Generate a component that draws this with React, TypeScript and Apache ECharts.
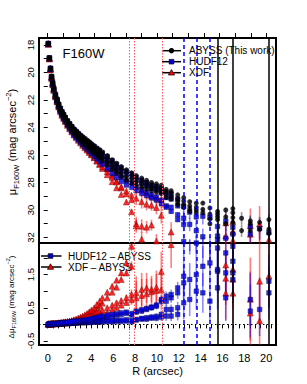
import React, { useEffect, useRef } from "react";
import * as echarts from "echarts";

// ---------- data ----------
const radius = [
  0.05, 0.15, 0.25, 0.35, 0.45, 0.55, 0.7, 0.85, 1.0, 1.15,
  1.3, 1.45, 1.6, 1.8, 2.0, 2.2, 2.4, 2.6, 2.8, 3.0,
  3.2, 3.4, 3.6, 3.8, 4.0, 4.25, 4.5, 4.75, 5.0, 5.45,
  5.9, 6.3, 6.73, 7.2, 7.67, 8.1, 8.6, 9.05, 9.5, 9.95,
  10.4, 10.85, 11.3, 11.9, 12.45, 13.0, 13.6, 14.2, 14.85, 15.55,
  16.3, 16.95, 17.75, 18.55, 19.4, 20.25,
];

const abyssGal1 = [
  17.9, 18.95, 19.7, 20.3, 20.75, 21.15, 21.6, 21.95, 22.3, 22.6,
  22.85, 23.05, 23.25, 23.5, 23.7, 23.9, 24.1, 24.25, 24.4, 24.55,
  24.68, 24.8, 24.93, 25.05, 25.18, 25.32, 25.48, 25.62, 25.78, 26.05,
  26.35, 26.6, 26.85, 27.08, 27.3, 27.5, 27.68, 27.85, 28.0, 28.1,
  28.2, 28.5, 28.6, 28.9, 29.1, 29.4, 29.5, 29.5, 29.85, 30.1,
  30.0, 29.9, 30.6, 30.8, 30.9, 30.7,
];
const abyssGal2 = [
  17.9, 18.95, 19.7, 20.3, 20.75, 21.15, 21.6, 21.95, 22.3, 22.6,
  22.85, 23.05, 23.25, 23.5, 23.72, 23.93, 24.14, 24.3, 24.46, 24.62,
  24.76, 24.89, 25.03, 25.16, 25.3, 25.45, 25.62, 25.77, 25.94, 26.22,
  26.53, 26.79, 27.05, 27.28, 27.5, 27.7, 27.88, 28.05, 28.2, 28.3,
  28.4, 28.65, 28.75, 29.2, 29.35, 29.7, 29.8, 29.95, 30.3, 30.3,
  30.5, 30.2, 31.5, 31.0, 31.4, 31.4,
];
const abyssGal3 = [
  17.92, 18.97, 19.73, 20.34, 20.8, 21.2, 21.66, 22.02, 22.38, 22.69,
  22.95, 23.16, 23.37, 23.63, 23.85, 24.06, 24.27, 24.44, 24.6, 24.77,
  24.92, 25.06, 25.21, 25.35, 25.5, 25.66, 25.84, 26.0, 26.18, 26.47,
  26.79, 27.06, 27.33, 27.57, 27.78, 27.96, 28.12, 28.27, 28.4, 28.5,
  28.6, 28.85, 29.0, 29.4, 29.6, 29.9, 30.0, 30.2, 30.65, 30.5,
  31.0, 30.55, null, 31.5, null, 31.7,
];
const abyssGal4 = [
  17.95, 19.02, 19.8, 20.42, 20.88, 21.28, 21.75, 22.12, 22.48, 22.8,
  23.07, 23.29, 23.51, 23.78, 24.01, 24.23, 24.45, 24.63, 24.8, 24.97,
  25.13, 25.28, 25.43, 25.58, 25.73, 25.9, 26.08, 26.25, 26.43, 26.73,
  27.05, 27.32, 27.58, 27.82, 28.03, 28.2, 28.35, 28.48, 28.6, 28.7,
  28.8, 29.1, 29.2, 29.6, 29.8, 30.1, 30.2, null, 31.0, 30.7,
  null, 30.9, null, null, null, null,
];

const hudfMinusAbyssGal1 = [
  0, 0, 0, 0, 0.01, 0.01, 0.01, 0.01, 0.02, 0.02,
  0.02, 0.02, 0.03, 0.03, 0.03, 0.04, 0.04, 0.04, 0.05, 0.05,
  0.05, 0.05, 0.06, 0.06, 0.06, 0.07, 0.07, 0.07, 0.08, 0.08,
  0.08, 0.09, 0.09, 0.1, 0.08, 0.13, 0.16, 0.16, 0.19, 0.19,
  0.22, 0.25, 0.25, 0.3, 0.65, 0.75, 1.0, 0.95, 0.7, 1.1,
  0.8, 1.35, null, 0.4, 0.45, 0.95,
];
const hudfMinusAbyssGal2 = [
  0, 0, 0, 0.01, 0.01, 0.01, 0.02, 0.02, 0.02, 0.03,
  0.03, 0.03, 0.04, 0.04, 0.05, 0.05, 0.05, 0.06, 0.06, 0.07,
  0.07, 0.08, 0.08, 0.09, 0.09, 0.1, 0.1, 0.11, 0.11, 0.12,
  0.12, 0.13, 0.13, 0.14, 0.12, 0.15, 0.18, 0.2, 0.22, 0.24,
  0.3, 0.45, 0.45, 0.5, 1.25, 1.35, 2.6, 2.6, 2.8, 1.6,
  1.55, 1.55, null, 0.75, null, 1.3,
];
const hudfMinusAbyssGal3 = [
  0, 0, 0.01, 0.01, 0.01, 0.02, 0.02, 0.02, 0.03, 0.03,
  0.04, 0.04, 0.05, 0.05, 0.06, 0.07, 0.07, 0.08, 0.09, 0.09,
  0.1, 0.11, 0.12, 0.13, 0.14, 0.15, 0.16, 0.18, 0.2, 0.22,
  0.25, 0.28, 0.3, 0.33, 0.28, 0.37, 0.4, 0.45, 0.5, 0.55,
  0.7, 0.85, 0.8, 0.95, 1.45, 2.7, 1.5, 1.75, 1.85, 1.65,
  2.15, 1.9, null, null, null, null,
];
const hudfMinusAbyssGal4 = [
  0, 0.01, 0.01, 0.01, 0.02, 0.02, 0.02, 0.03, 0.03, 0.04,
  0.04, 0.05, 0.05, 0.06, 0.07, 0.08, 0.09, 0.1, 0.1, 0.11,
  0.12, 0.13, 0.14, 0.15, 0.17, 0.19, 0.21, 0.23, 0.25, 0.28,
  0.3, 0.32, 0.35, 0.37, 0.33, 0.4, 0.44, 0.48, 0.52, 0.58,
  0.75, 0.7, 0.9, 1.1, 2.5, 2.6, 2.7, null, 2.5, 2.3,
  null, 2.35, null, null, null, null,
];

const xdfMinusAbyssGal1 = [
  0.0, 0.01, 0.01, 0.01, 0.01, 0.02, 0.02, 0.02, 0.03, 0.03,
  0.03, 0.04, 0.04, 0.05, 0.05, 0.06, 0.07, 0.07, 0.08, 0.09,
  0.1, 0.11, 0.13, 0.15, 0.17, 0.2, 0.23, 0.27, 0.3, 0.36,
  0.44, 0.5, 0.58, 0.66, 0.74, 0.8, 0.87, 0.92, 0.98, 1.02,
  1.04, null, null, null, null, null, null, null, null, null,
  0.94, 0.94, null, 0.34, 0.11, 1.46,
];
const xdfMinusAbyssGal2 = [
  0.02, 0.02, 0.02, 0.02, 0.03, 0.03, 0.03, 0.04, 0.04, 0.05,
  0.05, 0.06, 0.07, 0.08, 0.09, 0.1, 0.12, 0.14, 0.16, 0.19,
  0.22, 0.25, 0.29, 0.33, 0.37, 0.42, 0.48, 0.56, 0.64, 0.8,
  0.97, 1.12, 1.35, 1.55, 1.75, 3.3, 3.3, 3.2, 2.9, 3.95,
  null, null, null, null, null, null, null, null, null, null,
  1.39, 1.36, null, 0.76, 1.3, null,
];
const xdfMinusAbyssGal3 = [
  0.02, 0.02, 0.02, 0.03, 0.03, 0.03, 0.04, 0.04, 0.05, 0.05,
  0.06, 0.07, 0.08, 0.09, 0.1, 0.12, 0.14, 0.16, 0.19, 0.22,
  0.25, 0.29, 0.33, 0.38, 0.43, 0.5, 0.6, 0.7, 0.8, 0.97,
  1.15, 1.33, 1.55, 1.85, 2.35, 3.2, 4.0, null, null, null,
  null, null, null, null, null, null, null, null, null, null,
  1.79, 1.66, null, null, null, null,
];
const xdfMinusAbyssGal4 = [
  0.01, 0.01, 0.02, 0.02, 0.02, 0.03, 0.03, 0.03, 0.04, 0.04,
  0.05, 0.05, 0.06, 0.07, 0.08, 0.09, 0.1, 0.11, 0.13, 0.15,
  0.17, 0.19, 0.21, 0.24, 0.27, 0.31, 0.35, 0.39, 0.43, 0.5,
  0.58, 0.65, 0.72, 0.8, 0.9, 0.95, 1.05, 1.1, 1.06, 1.12,
  1.59, null, 2.4, null, null, null, null, null, null, null,
  null, null, null, null, null, null,
];

const errAbyss = [
  0, 0, 0, 0, 0, 0, 0, 0, 0, 0,
  0, 0, 0, 0, 0, 0, 0, 0, 0, 0,
  0, 0, 0, 0, 0, 0, 0, 0, 0, 0,
  0, 0, 0, 0, 0, 0, 0.02, 0.03, 0.03, 0.04,
  0.04, 0.05, 0.05, 0.06, 0.07, 0.08, 0.09, 0.1, 0.12, 0.14,
  0.16, 0.2, 0.45, 0.35, 0.4, 0.4,
];
const errHudf = [
  0, 0, 0, 0, 0, 0, 0, 0, 0, 0,
  0, 0, 0, 0, 0, 0, 0, 0, 0, 0,
  0, 0, 0, 0, 0, 0, 0, 0, 0.02, 0.03,
  0.03, 0.04, 0.04, 0.05, 0.05, 0.06, 0.07, 0.08, 0.09, 0.1,
  0.12, 0.14, 0.15, 0.18, 0.5, 0.5, 0.55, 0.6, 0.6, 0.65,
  0.7, 0.7, 0.7, 0.8, 0.8, 0.8,
];
const errXdf = [
  0, 0, 0, 0, 0, 0, 0, 0, 0, 0,
  0, 0, 0, 0, 0, 0, 0, 0, 0, 0,
  0, 0, 0, 0, 0, 0, 0, 0, 0.03, 0.04,
  0.05, 0.06, 0.07, 0.1, 0.15, 0.5, 0.5, 0.45, 0.4, 0.5,
  0.6, 0.6, 0.7, 0.7, 0.7, 0.7, 0.7, 0.7, 0.7, 0.7,
  0.8, 0.9, 1.0, 1.25, 1.3, 1.0,
];

// limiting radii (arcsec)
const xdfLimits = [7.5, 7.95, 10.45];
const hudfLimits = [12.45, 13.6, 14.85];
const abyssLimits = [15.55, 16.95, 20.25];

// axis ticks
const muTicks = [18, 19, 20, 21, 22, 23, 24, 25, 26, 27, 28, 29, 30, 31, 32];
const muLabels = [18, 20, 22, 24, 26, 28, 30, 32];
const dTicks = [-0.5, 0, 0.5, 1, 1.5, 2];
const dLabels = [-0.5, 0.5, 1.5];
const rTicks = [
  0, 0.5, 1, 1.5, 2, 2.5, 3, 3.5, 4, 4.5, 5, 5.5, 6, 6.5, 7, 7.5, 8, 8.5, 9, 9.5,
  10, 10.5, 11, 11.5, 12, 12.5, 13, 13.5, 14, 14.5, 15, 15.5, 16, 16.5, 17, 17.5,
  18, 18.5, 19, 19.5, 20, 20.5,
];
const rLabels = [0, 2, 4, 6, 8, 10, 12, 14, 16, 18, 20];
const kpcTicks = [0, 1, 2, 3, 4, 5, 6, 7, 8, 9, 10, 11, 12, 13, 14];
const kpcPerArcsec = 0.699;

const legendTop = ["ABYSS (This work)", "HUDF12", "XDF"];
const legendBottom = ["HUDF12 \u2013 ABYSS", "XDF \u2013 ABYSS"];

// ---------- helpers ----------
const FONT = "'Liberation Sans', Arial, Helvetica, sans-serif";
const R_MIN = -0.8;
const R_MAX = 20.9;

const abyssAll = [abyssGal1, abyssGal2, abyssGal3, abyssGal4];
const hudfAll = [hudfMinusAbyssGal1, hudfMinusAbyssGal2, hudfMinusAbyssGal3, hudfMinusAbyssGal4];
const xdfAll = [xdfMinusAbyssGal1, xdfMinusAbyssGal2, xdfMinusAbyssGal3, xdfMinusAbyssGal4];

type Num = number | null;

function points(base: Num[] | null, diff: Num[] | null, err: number[]) {
  const out: number[][] = [];
  radius.forEach((r, i) => {
    let v: number | null = null;
    if (base && diff) {
      if (base[i] != null && diff[i] != null) v = (base[i] as number) + (diff[i] as number);
    } else if (base) {
      v = base[i];
    } else if (diff) {
      v = diff[i];
    }
    if (v != null) out.push([r, v, err[i]]);
  });
  return out;
}

function errSeries(data: number[][], color: string, xi: number, yi: number) {
  return {
    type: "custom",
    xAxisIndex: xi,
    yAxisIndex: yi,
    silent: true,
    data: data.filter((d) => d[2] > 0),
    renderItem: (params: any, api: any) => {
      const x = api.value(0);
      const y = api.value(1);
      const e = api.value(2);
      const a = api.coord([x, y - e]);
      const b = api.coord([x, y + e]);
      const cs = params.coordSys;
      const top = cs.y;
      const bot = cs.y + cs.height;
      const y1 = Math.max(top, Math.min(bot, a[1]));
      const y2 = Math.max(top, Math.min(bot, b[1]));
      if (Math.abs(y1 - y2) < 0.5) return null;
      return {
        type: "line",
        shape: { x1: a[0], y1, x2: b[0], y2 },
        style: { stroke: color, lineWidth: 1.6 },
      };
    },
  };
}

const markers = {
  abyss: { symbol: "circle", symbolSize: 5, itemStyle: { color: "#000" } },
  hudf: {
    symbol: "rect",
    symbolSize: 4.6,
    itemStyle: { color: "#0000e6", borderColor: "#000040", borderWidth: 0.5 },
  },
  xdf: {
    symbol: "triangle",
    symbolSize: 6,
    itemStyle: { color: "#ff0000", borderColor: "#600000", borderWidth: 0.5 },
  },
};

function scatter(data: number[][], kind: "abyss" | "hudf" | "xdf", xi: number, yi: number) {
  return {
    type: "scatter",
    xAxisIndex: xi,
    yAxisIndex: yi,
    silent: true,
    clip: true,
    data: data.map((d) => [d[0], d[1]]),
    ...markers[kind],
  };
}

function vlines() {
  const items: any[] = [];
  xdfLimits.forEach((x) =>
    items.push({ xAxis: x, lineStyle: { color: "#ff5a5a", type: [1.5, 1.5], width: 1 } })
  );
  hudfLimits.forEach((x) =>
    items.push({ xAxis: x, lineStyle: { color: "#0000ff", type: [4, 3], width: 1.5 } })
  );
  abyssLimits.forEach((x) =>
    items.push({ xAxis: x, lineStyle: { color: "#000", type: "solid", width: 1.5 } })
  );
  return items;
}

function buildOption() {
  const series: any[] = [];

  // limiting-radius lines
  series.push({
    type: "scatter",
    xAxisIndex: 0,
    yAxisIndex: 0,
    data: [],
    silent: true,
    markLine: { silent: true, symbol: "none", label: { show: false }, animation: false, data: vlines() },
  });
  series.push({
    type: "scatter",
    xAxisIndex: 2,
    yAxisIndex: 1,
    data: [],
    silent: true,
    markLine: {
      silent: true,
      symbol: "none",
      label: { show: false },
      animation: false,
      data: [
        ...vlines(),
        { yAxis: 0, lineStyle: { color: "#000", type: [1.5, 2.5], width: 1.2 } },
      ],
    },
  });

  const topX: number[][][] = [];
  const topH: number[][][] = [];
  const topA: number[][][] = [];
  const botX: number[][][] = [];
  const botH: number[][][] = [];
  for (let g = 0; g < 4; g++) {
    topA.push(points(abyssAll[g], null, errAbyss));
    topH.push(points(abyssAll[g], hudfAll[g], errHudf));
    topX.push(points(abyssAll[g], xdfAll[g], errXdf));
    botH.push(points(null, hudfAll[g], errHudf));
    botX.push(points(null, xdfAll[g], errXdf));
  }

  // top panel: error bars then markers
  topX.forEach((d) => series.push(errSeries(d, "rgba(255,0,0,0.5)", 0, 0)));
  topH.forEach((d) => series.push(errSeries(d, "rgba(0,0,255,0.45)", 0, 0)));
  topA.forEach((d) => series.push(errSeries(d, "rgba(90,90,90,0.6)", 0, 0)));
  topX.forEach((d) => series.push(scatter(d, "xdf", 0, 0)));
  topH.forEach((d) => series.push(scatter(d, "hudf", 0, 0)));
  topA.forEach((d) => series.push(scatter(d, "abyss", 0, 0)));

  // bottom panel
  botX.forEach((d) => series.push(errSeries(d, "rgba(255,0,0,0.5)", 2, 1)));
  botH.forEach((d) => series.push(errSeries(d, "rgba(0,0,255,0.45)", 2, 1)));
  botX.forEach((d) => series.push(scatter(d, "xdf", 2, 1)));
  botH.forEach((d) => series.push(scatter(d, "hudf", 2, 1)));

  const tickStyle = { lineStyle: { color: "#000", width: 1 } };

  // legends drawn as graphics
  const graphic: any[] = [];
  const legTopY = [50.7, 61.7, 72.7];
  legendTop.forEach((t, i) => {
    const y = legTopY[i];
    graphic.push({ type: "line", shape: { x1: 162, y1: y, x2: 181, y2: y }, style: { stroke: "#000", lineWidth: 1.5 } });
    if (i === 0) graphic.push({ type: "circle", shape: { cx: 171.5, cy: y, r: 2.7 }, style: { fill: "#000" } });
    if (i === 1)
      graphic.push({ type: "rect", shape: { x: 169.2, y: y - 2.3, width: 4.6, height: 4.6 }, style: { fill: "#0000e6", stroke: "#000", lineWidth: 0.7 } });
    if (i === 2)
      graphic.push({ type: "polygon", shape: { points: [[171.5, y - 3.2], [168.4, y + 2.3], [174.6, y + 2.3]] }, style: { fill: "#ff0000", stroke: "#000", lineWidth: 0.7 } });
    graphic.push({ type: "text", x: 189, y, style: { text: t, fontFamily: FONT, fontSize: 10, fill: "#000", verticalAlign: "middle", align: "left" } });
  });
  const legBotY = [256, 267];
  legendBottom.forEach((t, i) => {
    const y = legBotY[i];
    graphic.push({ type: "line", shape: { x1: 41, y1: y, x2: 61.5, y2: y }, style: { stroke: "#000", lineWidth: 1.5 } });
    if (i === 0)
      graphic.push({ type: "rect", shape: { x: 48.2, y: y - 2.3, width: 4.6, height: 4.6 }, style: { fill: "#0000e6", stroke: "#000", lineWidth: 0.7 } });
    else
      graphic.push({ type: "polygon", shape: { points: [[50.5, y - 3.2], [47.4, y + 2.3], [53.6, y + 2.3]] }, style: { fill: "#ff0000", stroke: "#000", lineWidth: 0.7 } });
    graphic.push({ type: "text", x: 68, y, style: { text: t, fontFamily: FONT, fontSize: 10, fill: "#000", verticalAlign: "middle", align: "left" } });
  });
  // panel label
  graphic.push({ type: "text", x: 62.5, y: 53.5, style: { text: "F160W", fontFamily: FONT, fontSize: 13, fill: "#000", verticalAlign: "middle", align: "left" } });
  // y titles
  graphic.push({
    type: "text",
    x: 12,
    y: 142,
    rotation: Math.PI / 2,
    style: {
      text: "{m|\u03bc}{s|F160W}{m| (mag arcsec}{p|\u22122}{m|)}",
      align: "center",
      verticalAlign: "middle",
      fill: "#000",
      rich: {
        m: { fontFamily: FONT, fontSize: 11, lineHeight: 16, fill: "#000" },
        s: { fontFamily: FONT, fontSize: 7.5, lineHeight: 8, verticalAlign: "bottom", fill: "#000" },
        p: { fontFamily: FONT, fontSize: 7.5, lineHeight: 8, verticalAlign: "top", fill: "#000" },
      },
    },
  });
  graphic.push({
    type: "text",
    x: 11,
    y: 297,
    rotation: Math.PI / 2,
    style: {
      text: "{m|\u0394\u03bc}{s|F160W}{m| (mag arcsec}{p|\u22122}{m|)}",
      align: "center",
      verticalAlign: "middle",
      fill: "#000",
      rich: {
        m: { fontFamily: FONT, fontSize: 8, lineHeight: 12, fill: "#000" },
        s: { fontFamily: FONT, fontSize: 5.5, lineHeight: 6, verticalAlign: "bottom", fill: "#000" },
        p: { fontFamily: FONT, fontSize: 5.5, lineHeight: 6, verticalAlign: "top", fill: "#000" },
      },
    },
  });

  return {
    animation: false,
    backgroundColor: "#fff",
    textStyle: { fontFamily: FONT },
    grid: [
      { left: 39, top: 38, width: 237, height: 205, show: true, borderColor: "#000", borderWidth: 2, backgroundColor: "transparent" },
      { left: 39, top: 243, width: 237, height: 102, show: true, borderColor: "#000", borderWidth: 2, backgroundColor: "transparent" },
    ],
    xAxis: [
      {
        type: "value", gridIndex: 0, min: R_MIN, max: R_MAX, position: "bottom",
        axisLine: { show: false }, axisTick: { show: false }, axisLabel: { show: false }, splitLine: { show: false },
      },
      {
        type: "value", gridIndex: 0, min: R_MIN * kpcPerArcsec, max: R_MAX * kpcPerArcsec, position: "top",
        axisLine: { show: false },
        axisTick: { show: true, length: 5, customValues: kpcTicks, ...tickStyle },
        axisLabel: { show: false, customValues: kpcTicks },
        splitLine: { show: false },
      },
      {
        type: "value", gridIndex: 1, min: R_MIN, max: R_MAX, position: "bottom",
        axisLine: { show: false },
        axisTick: { show: true, length: 4, customValues: rTicks, ...tickStyle },
        axisLabel: { show: true, customValues: rLabels, fontFamily: FONT, fontSize: 11, color: "#000", margin: 7 },
        splitLine: { show: false },
        name: "R (arcsec)", nameLocation: "middle", nameGap: 20,
        nameTextStyle: { fontFamily: FONT, fontSize: 11, color: "#000", verticalAlign: "top" },
      },
    ],
    yAxis: [
      {
        type: "value", gridIndex: 0, min: 17.5, max: 32.4, inverse: true,
        axisLine: { show: false },
        axisTick: { show: true, length: 4, customValues: muTicks, ...tickStyle },
        axisLabel: { show: true, customValues: muLabels, rotate: 90, fontFamily: FONT, fontSize: 9.5, color: "#000", margin: 4 },
        splitLine: { show: false },
      },
      {
        type: "value", gridIndex: 1, min: -0.62, max: 2.45,
        axisLine: { show: false },
        axisTick: { show: true, length: 4, customValues: dTicks, ...tickStyle },
        axisLabel: { show: true, customValues: dLabels, rotate: 90, fontFamily: FONT, fontSize: 9.5, color: "#000", margin: 4 },
        splitLine: { show: false },
      },
    ],
    graphic,
    series,
  };
}

export default function App() {
  const ref = useRef<HTMLDivElement>(null);
  useEffect(() => {
    if (!ref.current) return;
    const chart = echarts.init(ref.current, null, { renderer: "svg" });
    chart.setOption(buildOption() as any);
    return () => chart.dispose();
  }, []);
  return (
    <div
      ref={ref}
      style={{ position: "absolute", left: 0, top: 0, width: 307, height: 384, background: "#fff" }}
    />
  );
}
